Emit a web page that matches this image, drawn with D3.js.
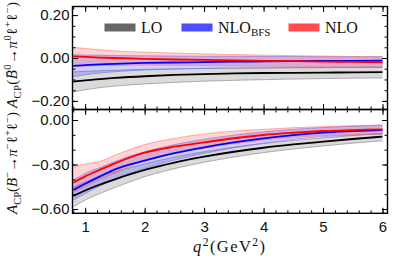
<!DOCTYPE html>
<html>
<head>
<meta charset="utf-8">
<script src="https://cdn.jsdelivr.net/npm/d3@7"></script>
<style>
  body { margin: 0; background: #fff; }
  svg { display: block; }
  .tick text { font-family: "Liberation Sans", Arial, sans-serif; font-size: 15px; fill: #111; }
  .tick line { stroke: #000; stroke-width: 1; }
  .domain { display: none; }
  .lbl { font-family: "Liberation Serif", "Times New Roman", serif; fill: #111; }
</style>
</head>
<body>
<script>
/* data */

var q2 = [0.8, 1.0, 1.25, 1.5, 2.0, 2.5, 3.0, 3.5, 4.0, 4.5, 5.0, 5.5, 6.0];

// neutral mode B0bar -> pi0 l+ l-
var loNeutral      = [-0.110, -0.104, -0.098, -0.093, -0.085, -0.079, -0.075, -0.072, -0.070, -0.069, -0.068, -0.067, -0.066];
var loNeutralLow   = [-0.158, -0.148, -0.138, -0.131, -0.121, -0.114, -0.108, -0.104, -0.101, -0.098, -0.096, -0.094, -0.093];
var loNeutralHigh  = [-0.065, -0.062, -0.059, -0.057, -0.053, -0.051, -0.049, -0.048, -0.047, -0.046, -0.045, -0.044, -0.043];
var bfsNeutral     = [-0.037, -0.033, -0.030, -0.027, -0.023, -0.021, -0.019, -0.017, -0.016, -0.015, -0.014, -0.013, -0.012];
var bfsNeutralLow  = [-0.087, -0.078, -0.070, -0.064, -0.056, -0.051, -0.048, -0.046, -0.045, -0.044, -0.044, -0.043, -0.043];
var bfsNeutralHigh = [0.015, 0.014, 0.013, 0.012, 0.010, 0.009, 0.008, 0.008, 0.007, 0.007, 0.006, 0.006, 0.006];
var nloNeutral     = [0.008, 0.005, 0.002, 0.000, -0.004, -0.007, -0.009, -0.011, -0.013, -0.015, -0.017, -0.018, -0.020];
var nloNeutralLow  = [-0.040, -0.037, -0.035, -0.034, -0.033, -0.034, -0.035, -0.036, -0.037, -0.039, -0.040, -0.042, -0.043];
var nloNeutralHigh = [0.050, 0.044, 0.038, 0.033, 0.027, 0.023, 0.019, 0.016, 0.013, 0.011, 0.009, 0.007, 0.006];

// charged mode B- -> pi- l+ l-
var loCharged      = [-0.512, -0.475, -0.435, -0.400, -0.337, -0.287, -0.247, -0.214, -0.187, -0.165, -0.146, -0.128, -0.112];
var loChargedLow   = [-0.585, -0.540, -0.495, -0.455, -0.382, -0.328, -0.285, -0.250, -0.220, -0.196, -0.175, -0.156, -0.140];
var loChargedHigh  = [-0.454, -0.420, -0.380, -0.350, -0.296, -0.250, -0.214, -0.183, -0.158, -0.138, -0.120, -0.105, -0.090];
var bfsCharged     = [-0.472, -0.430, -0.380, -0.333, -0.274, -0.224, -0.184, -0.151, -0.124, -0.102, -0.085, -0.075, -0.067];
var bfsChargedLow  = [-0.540, -0.495, -0.445, -0.400, -0.326, -0.270, -0.225, -0.188, -0.157, -0.131, -0.112, -0.102, -0.094];
var bfsChargedHigh = [-0.405, -0.360, -0.320, -0.280, -0.214, -0.166, -0.130, -0.102, -0.080, -0.063, -0.050, -0.041, -0.034];
var nloCharged     = [-0.423, -0.380, -0.335, -0.292, -0.220, -0.180, -0.151, -0.123, -0.101, -0.086, -0.074, -0.068, -0.063];
var nloChargedLow  = [-0.490, -0.450, -0.400, -0.360, -0.270, -0.225, -0.191, -0.160, -0.135, -0.117, -0.105, -0.098, -0.094];
var nloChargedHigh = [-0.319, -0.297, -0.279, -0.238, -0.166, -0.124, -0.094, -0.075, -0.063, -0.052, -0.045, -0.039, -0.034];

var xTicks = [1, 2, 3, 4, 5, 6];
var topTicks = [-0.2, 0, 0.2];
var bottomTicks = [-0.6, -0.3, 0];
var legendNames = ['LO', 'NLO', 'NLO'];


/* canvas */

var width = 395;
var height = 265;
var left = 72.5, right = 387.5;
var topY0 = 6.5, midY = 109.5, botY1 = 213.3;

var svg = d3.select('body').append('svg')
  .attr('width', width)
  .attr('height', height);

var x = d3.scaleLinear().domain([0.787, 6.084]).range([left, right]);
var yTop = d3.scaleLinear().domain([-0.24, 0.24]).range([midY, topY0]);
var yBot = d3.scaleLinear().domain([-0.629, 0.0708]).range([botY1, midY]);

var styles = {
  lo:  { line: '#000', fill: 'rgba(150,150,150,0.35)', edge: 'rgba(120,120,120,0.7)' },
  bfs: { line: '#0000ff', fill: 'rgba(60,60,255,0.25)', edge: 'rgba(90,90,255,0.6)' },
  nlo: { line: '#ff0000', fill: 'rgba(255,60,60,0.22)', edge: 'rgba(255,110,110,0.7)' }
};

function drawPanel(y, sets) {
  var g = svg.append('g');
  sets.forEach(function (s) {
    var st = styles[s.key];
    var pts = q2.map(function (q, i) { return { q: q, lo: s.low[i], hi: s.high[i] }; });
    g.append('path')
      .datum(pts)
      .attr('fill', st.fill)
      .attr('d', d3.area().curve(d3.curveMonotoneX)
        .x(function (d) { return x(d.q); })
        .y0(function (d) { return y(d.lo); })
        .y1(function (d) { return y(d.hi); }));
    ['lo', 'hi'].forEach(function (k) {
      g.append('path')
        .datum(pts)
        .attr('fill', 'none')
        .attr('stroke', st.edge)
        .attr('stroke-width', 0.8)
        .attr('d', d3.line().curve(d3.curveMonotoneX)
          .x(function (d) { return x(d.q); })
          .y(function (d) { return y(d[k]); }));
    });
  });
  sets.forEach(function (s) {
    g.append('path')
      .datum(q2.map(function (q, i) { return [q, s.mid[i]]; }))
      .attr('fill', 'none')
      .attr('stroke', styles[s.key].line)
      .attr('stroke-width', 1.8)
      .attr('d', d3.line().curve(d3.curveMonotoneX)
        .x(function (d) { return x(d[0]); })
        .y(function (d) { return y(d[1]); }));
  });
}

drawPanel(yTop, [
  { key: 'lo', mid: loNeutral, low: loNeutralLow, high: loNeutralHigh },
  { key: 'bfs', mid: bfsNeutral, low: bfsNeutralLow, high: bfsNeutralHigh },
  { key: 'nlo', mid: nloNeutral, low: nloNeutralLow, high: nloNeutralHigh }
]);

drawPanel(yBot, [
  { key: 'lo', mid: loCharged, low: loChargedLow, high: loChargedHigh },
  { key: 'bfs', mid: bfsCharged, low: bfsChargedLow, high: bfsChargedHigh },
  { key: 'nlo', mid: nloCharged, low: nloChargedLow, high: nloChargedHigh }
]);


/* ticks (all pointing inside) */

function minorRange(a, b, step) {
  var out = [];
  for (var v = Math.ceil(a / step - 1e-9) * step; v <= b + 1e-9; v += step) out.push(+v.toFixed(4));
  return out;
}

var xMinor = minorRange(0.8, 6.0, 0.2);

function xAxes(yPos, isBottom, labels) {
  svg.append('g').attr('transform', 'translate(0,' + yPos + ')')
    .call((isBottom ? d3.axisBottom(x) : d3.axisTop(x)).tickValues(xMinor).tickSizeInner(-3).tickSizeOuter(0).tickFormat(''));
  svg.append('g').attr('transform', 'translate(0,' + yPos + ')')
    .call((isBottom ? d3.axisBottom(x) : d3.axisTop(x)).tickValues(xTicks).tickSizeInner(-5.5).tickSizeOuter(0)
      .tickPadding(8).tickFormat(labels ? d3.format('d') : ''));
}

xAxes(botY1, true, true);
xAxes(midY, false, false);
xAxes(midY, true, false);
xAxes(topY0, false, false);

function yAxes(y, major, minorStep) {
  var d = y.domain();
  var minor = minorRange(d[0], d[1], minorStep);
  svg.append('g').attr('transform', 'translate(' + left + ',0)')
    .call(d3.axisLeft(y).tickValues(minor).tickSizeInner(-3).tickSizeOuter(0).tickFormat(''));
  svg.append('g').attr('transform', 'translate(' + left + ',0)')
    .call(d3.axisLeft(y).tickValues(major).tickSizeInner(-5.5).tickSizeOuter(0).tickPadding(3).tickFormat(d3.format('.2f')));
  svg.append('g').attr('transform', 'translate(' + right + ',0)')
    .call(d3.axisRight(y).tickValues(minor).tickSizeInner(-3).tickSizeOuter(0).tickFormat(''));
  svg.append('g').attr('transform', 'translate(' + right + ',0)')
    .call(d3.axisRight(y).tickValues(major).tickSizeInner(-5.5).tickSizeOuter(0).tickFormat(''));
}

yAxes(yTop, topTicks, 0.05);
yAxes(yBot, bottomTicks, 0.1);

// empty tick text nodes from the label-less axes
svg.selectAll('.tick text').filter(function () { return this.textContent === ''; }).remove();


/* frames */

svg.append('rect')
  .attr('x', left).attr('y', topY0)
  .attr('width', right - left).attr('height', midY - topY0)
  .attr('fill', 'none').attr('stroke', '#000').attr('stroke-width', 1.4);

svg.append('rect')
  .attr('x', left).attr('y', midY)
  .attr('width', right - left).attr('height', botY1 - midY)
  .attr('fill', 'none').attr('stroke', '#000').attr('stroke-width', 1.4);


/* rich labels: parts of [text, kind] */

function richText(sel, parts, size, supShift) {
  var shift = 0;
  parts.forEach(function (p) {
    var t = sel.append('tspan').text(p[0]);
    var target = 0;
    if (p[1] === 'sub') target = size * 0.28;
    if (p[1] === 'sup') target = -size * (supShift || 0.42);
    if (target - shift !== 0) t.attr('dy', target - shift);
    shift = target;
    if (p[1] === 'i') t.style('font-style', 'italic');
    if (p[1] === 'sub' || p[1] === 'sup') t.style('font-size', size * 0.7 + 'px');
  });
}

var yLabelSize = 15;

var topLabel = svg.append('text')
  .attr('class', 'lbl')
  .attr('text-anchor', 'middle')
  .attr('textLength', 106)
  .attr('lengthAdjust', 'spacing')
  .attr('transform', 'translate(17,55) rotate(-90)')
  .style('font-size', yLabelSize + 'px');
richText(topLabel, [
  ['A', 'i'], ['CP', 'sub'], ['(', 'n'], ['B\u0304', 'i'], ['0', 'sup'],
  ['\u2192', 'n'], ['\u03c0', 'i'], ['0', 'sup'], ['\u2113', 'n'], ['+', 'sup'],
  ['\u2113', 'n'], ['\u2212', 'sup'], [')', 'n']
], yLabelSize);

var botLabel = svg.append('text')
  .attr('class', 'lbl')
  .attr('text-anchor', 'middle')
  .attr('textLength', 102)
  .attr('lengthAdjust', 'spacing')
  .attr('transform', 'translate(17,163) rotate(-90)')
  .style('font-size', yLabelSize + 'px');
richText(botLabel, [
  ['A', 'i'], ['CP', 'sub'], ['(', 'n'], ['B', 'i'], ['\u2212', 'sup'],
  ['\u2192', 'n'], ['\u03c0', 'i'], ['\u2212', 'sup'], ['\u2113', 'n'], ['+', 'sup'],
  ['\u2113', 'n'], ['\u2212', 'sup'], [')', 'n']
], yLabelSize);

var xLabel = svg.append('text')
  .attr('class', 'lbl')
  .attr('x', 193)
  .attr('y', 252)
  .attr('textLength', 72)
  .attr('lengthAdjust', 'spacing')
  .style('font-size', '16.5px');
richText(xLabel, [['q', 'i'], ['2', 'sup'], ['(GeV', 'n'], ['2', 'sup'], [')', 'n']], 16.5, 0.34);


/* legend */

var legendKeys = ['lo', 'bfs', 'nlo'];
var legendColours = ['#666666', '#4d4dff', '#ff4d4d'];
var legendX = [104.5, 181.5, 288.5];

var legend = svg.append('g');
legendKeys.forEach(function (k, i) {
  legend.append('rect')
    .attr('x', legendX[i]).attr('y', 23.5)
    .attr('width', 31).attr('height', 8)
    .attr('fill', legendColours[i]);
  var t = legend.append('text')
    .attr('class', 'lbl')
    .attr('x', legendX[i] + 36.5)
    .attr('y', 32.5)
    .style('font-size', '16px')
    .text(legendNames[i]);
  if (k === 'bfs') {
    t.append('tspan').attr('dy', 3).style('font-size', '11px').text('BFS');
  }
});
</script>
</body>
</html>
